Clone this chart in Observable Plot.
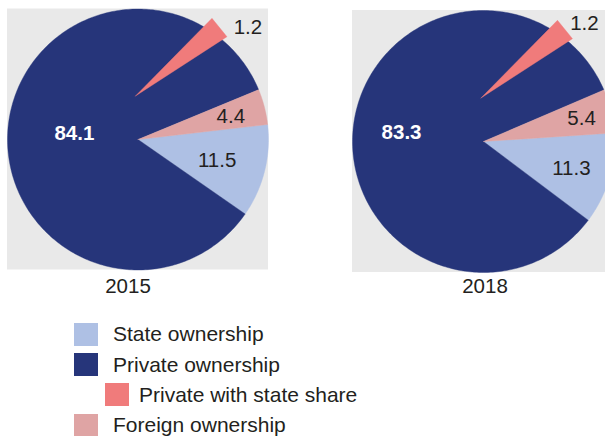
<!DOCTYPE html>
<html>
<head>
<meta charset="utf-8">
<script src="https://cdn.jsdelivr.net/npm/d3@7"></script>
<script src="https://cdn.jsdelivr.net/npm/@observablehq/plot@0.6"></script>
<style>
  html, body { margin: 0; padding: 0; background: #fff; }
  body { width: 605px; height: 436px; overflow: hidden; font-family: "Liberation Sans", Arial, sans-serif; color: #231f20; }
  #legend { margin-top: 14px; }
  .row { display: flex; align-items: center; height: 30.4px; font-size: 21px; }
  .sw { width: 24px; height: 23px; margin-right: 15px; flex: none; }
</style>
</head>
<body>
<div id="chart"></div>
<div id="legend"></div>
<script>
// ---- data ----
const years = ["2015", "2018"];
const categories = ["State ownership", "Private ownership", "Private with state share", "Foreign ownership"];
const values2015 = [11.5, 84.1, 1.2, 4.4];
const values2018 = [11.3, 83.3, 1.2, 5.4];
const colors = ["#aec0e4", "#26357a", "#f07b7b", "#dfa4a4"];

// ---- layout (display only) ----
const W = 605, H = 305;
const layout = [
  {cx: 137.5, cy: 139, r: 130.5, start: 83.4, labelFrac: [0.625, 0.49, null, 0.735], wedgeLabel: [45.8, 157.7], yearDx: -10},
  {cx: 483, cy: 141, r: 131, start: 86.25, labelFrac: [0.70, 0.63, null, 0.77], wedgeLabel: [49.7, 156], yearDx: 1.5}
];
const wedge = {ax: -2.5, ay: -43.5, bisector: 50.8, halfPerUnit: 5.2, length: 109};
const mainOrder = [0, 1, 3]; // clockwise order of main slices

const rad = d => d * Math.PI / 180;
const pt = (cx, cy, r, a) => [cx + r * Math.sin(rad(a)), cy - r * Math.cos(rad(a))];

const seriesValues = [values2015, values2018];
const panels = [], slices = [], labels = [], yearLabels = [];

years.forEach((year, i) => {
  const L = layout[i], vals = seriesValues[i];
  panels.push({x1: L.cx - L.r, x2: L.cx + L.r, y1: L.cy - L.r, y2: L.cy + L.r});
  let a0 = L.start;
  for (const k of mainOrder) {
    const span = vals[k] / 100 * 360;
    const key = year + "-" + k;
    const pts = [[L.cx, L.cy]];
    const n = Math.max(2, Math.ceil(span));
    for (let j = 0; j <= n; j++) pts.push(pt(L.cx, L.cy, L.r, a0 + span * j / n));
    pts.push([L.cx, L.cy]);
    pts.forEach(([x, y]) => slices.push({key, cat: categories[k], x, y}));
    const mid = a0 + span / 2;
    const [lx, ly] = pt(L.cx, L.cy, L.r * L.labelFrac[k], mid);
    labels.push({x: lx, y: ly + 0.8, text: String(vals[k]), k});
    a0 += span;
  }
  // exploded wedge: private with state share
  const k = 2;
  const ax = L.cx + wedge.ax, ay = L.cy + wedge.ay;
  const h = vals[k] * wedge.halfPerUnit;
  const key = year + "-w";
  const wp = [[ax, ay], pt(ax, ay, wedge.length, wedge.bisector - h), pt(ax, ay, wedge.length, wedge.bisector + h), [ax, ay]];
  wp.forEach(([x, y]) => slices.push({key, cat: categories[k], x, y}));
  const [wx, wy] = pt(L.cx, L.cy, L.wedgeLabel[1], 90 - L.wedgeLabel[0]);
  labels.push({x: wx, y: wy + 0.8, text: String(vals[k]), k});
  yearLabels.push({x: L.cx + L.yearDx, y: 286, text: year});
});

const font = "Liberation Sans, Arial, sans-serif";
const chart = Plot.plot({
  width: W, height: H,
  margin: 0,
  x: {domain: [0, W], range: [0, W], axis: null},
  y: {domain: [0, H], range: [0, H], axis: null},
  color: {domain: categories, range: colors},
  style: {background: "transparent", fontFamily: font},
  marks: [
    Plot.rect(panels, {x1: "x1", x2: "x2", y1: "y1", y2: "y2", fill: "#e9e9e9"}),
    Plot.line(slices, {x: "x", y: "y", z: "key", fill: "cat", stroke: "cat", strokeWidth: 0.4, curve: "linear"}),
    Plot.text(labels.filter(d => d.k !== 1), {x: "x", y: "y", text: "text", fontSize: 20.5, fill: "#231f20"}),
    Plot.text(labels.filter(d => d.k === 1), {x: "x", y: "y", text: "text", fontSize: 20.5, fill: "#ffffff", fontWeight: "bold"}),
    Plot.text(yearLabels, {x: "x", y: "y", text: "text", fontSize: 20.5, fill: "#231f20"})
  ]
});
document.getElementById("chart").appendChild(chart);

// ---- legend ----
const legendOrder = [0, 1, 2, 3];
const legend = d3.select("#legend");
legendOrder.forEach(k => {
  const row = legend.append("div").attr("class", "row")
    .style("padding-left", (k === 2 ? 105 : 74) + "px");
  row.append("div").attr("class", "sw").style("background", colors[k])
    .style("margin-right", (k === 2 ? 10 : 15) + "px");
  row.append("span").text(categories[k]);
});
</script>
</body>
</html>
